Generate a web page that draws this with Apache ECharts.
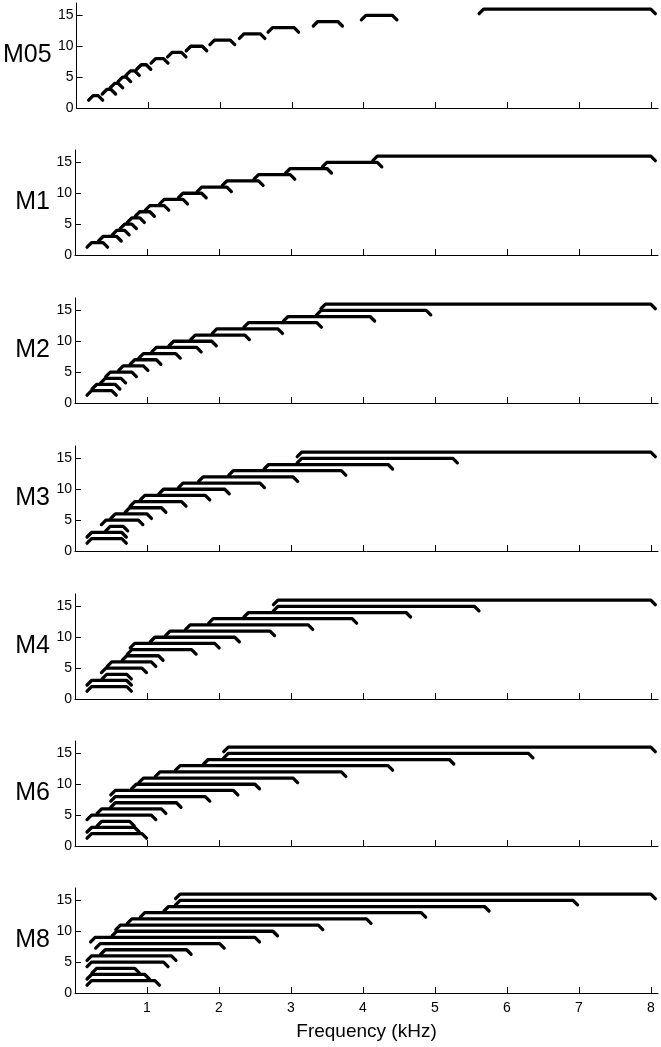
<!DOCTYPE html>
<html>
	<head>
		<meta charset="UTF-8">
		<title>Channel bands</title>
		<style>
			html, body { margin: 0; padding: 0; background: #fff; }
			#main { width: 661px; height: 1047px; }
		</style>
	</head>
	<body>
		<div id="main"></div>
		<script src="https://cdn.jsdelivr.net/npm/echarts@6.0.0/dist/echarts.min.js"></script>
		<script type="text/javascript">
			// channel levels (y) shared by every panel
			var levels = [2, 3, 4, 5, 6, 7, 8, 9, 10, 11, 12, 13, 14, 15, 16];
			var panelNames = ['M05', 'M1', 'M2', 'M3', 'M4', 'M6', 'M8'];
			var xTicks = [1, 2, 3, 4, 5, 6, 7, 8];
			var yTicks = [0, 5, 10, 15];

			// lower / upper edge (kHz) of the flat part of each band
			var m05Lo = [0.23, 0.42, 0.53, 0.64, 0.75, 0.90, 1.10, 1.33, 1.59, 1.92, 2.33, 2.73, 3.36, 4.03, 5.67];
			var m05Hi = [0.30, 0.48, 0.58, 0.69, 0.81, 0.97, 1.21, 1.46, 1.75, 2.14, 2.56, 3.03, 3.64, 4.40, 8.00];
			var m1Lo = [0.23, 0.39, 0.58, 0.69, 0.79, 0.90, 1.04, 1.24, 1.50, 1.76, 2.11, 2.55, 2.99, 3.50, 4.20];
			var m1Hi = [0.39, 0.58, 0.69, 0.79, 0.90, 1.04, 1.24, 1.50, 1.76, 2.11, 2.55, 2.99, 3.50, 4.20, 8.00];
			var m2Lo = [0.23, 0.30, 0.42, 0.49, 0.67, 0.83, 0.95, 1.13, 1.37, 1.67, 1.97, 2.41, 2.96, 3.42, 3.48];
			var m2Hi = [0.51, 0.56, 0.64, 0.79, 0.95, 1.13, 1.40, 1.69, 1.90, 2.36, 2.82, 3.36, 4.10, 4.88, 8.00];
			var m3Lo = [0.23, 0.23, 0.49, 0.43, 0.56, 0.76, 0.83, 0.97, 1.23, 1.50, 1.78, 2.20, 2.69, 3.15, 3.15];
			var m3Hi = [0.65, 0.65, 0.67, 0.88, 1.00, 1.20, 1.48, 1.81, 2.08, 2.57, 3.03, 3.70, 4.35, 5.25, 8.00];
			var m4Lo = [0.23, 0.23, 0.44, 0.43, 0.51, 0.72, 0.79, 0.83, 1.11, 1.32, 1.60, 1.92, 2.41, 2.82, 2.82];
			var m4Hi = [0.72, 0.72, 0.72, 0.93, 1.06, 1.16, 1.62, 1.94, 2.22, 2.71, 3.24, 3.85, 4.60, 5.55, 8.00];
			var m6Lo = [0.23, 0.23, 0.37, 0.23, 0.37, 0.56, 0.56, 0.56, 0.85, 0.95, 1.18, 1.46, 1.85, 2.13, 2.13];
			var m6Hi = [0.93, 0.83, 0.76, 1.06, 1.20, 1.41, 1.81, 2.20, 2.50, 3.03, 3.70, 4.35, 5.20, 6.30, 8.00];
			var m8Lo = [0.23, 0.23, 0.30, 0.23, 0.23, 0.42, 0.35, 0.28, 0.58, 0.63, 0.79, 0.97, 1.30, 1.46, 1.46];
			var m8Hi = [1.11, 0.97, 0.83, 1.23, 1.34, 1.55, 2.01, 2.50, 2.75, 3.38, 4.05, 4.81, 5.69, 6.92, 8.00];

			var panelLo = [m05Lo, m1Lo, m2Lo, m3Lo, m4Lo, m6Lo, m8Lo];
			var panelHi = [m05Hi, m1Hi, m2Hi, m3Hi, m4Hi, m6Hi, m8Hi];

			var HOOK = 4.5;
			var FONT = '"Liberation Sans", Arial, sans-serif';

			function renderBand(params, api) {
				var lvl = api.value(0);
				var a = api.coord([api.value(1), lvl]);
				var b = api.coord([api.value(2), lvl]);
				return {
					type: 'polyline',
					shape: {
						points: [[a[0] - HOOK, a[1] + HOOK], a, b, [b[0] + HOOK, b[1] + HOOK]]
					},
					style: {
						stroke: '#000',
						fill: null,
						lineWidth: 3.3,
						lineCap: 'round',
						lineJoin: 'round'
					}
				};
			}

			var myChart = echarts.init(document.getElementById('main'));
			var grids = [], xAxes = [], yAxes = [], series = [];
			var tops = [3, 150, 298, 446, 594, 741, 888];

			for (var i = 0; i < panelNames.length; i++) {
				var last = (i === panelNames.length - 1);
				grids.push({ left: 75, top: tops[i], width: 583, height: 105 });
				xAxes.push({
					type: 'value',
					gridIndex: i,
					min: 0,
					max: 8.1,
					name: last ? 'Frequency (kHz)' : '',
					nameLocation: 'middle',
					nameGap: 29,
					nameTextStyle: { fontFamily: FONT, fontSize: 19, color: '#000' },
					axisLine: { lineStyle: { color: '#000', width: 1 } },
					axisTick: { inside: true, length: 6, customValues: xTicks, lineStyle: { color: '#000' } },
					axisLabel: { show: last, customValues: xTicks, margin: 8, fontFamily: FONT, fontSize: 14, color: '#000' },
					splitLine: { show: false }
				});
				yAxes.push({
					type: 'value',
					gridIndex: i,
					min: 0,
					max: 17,
					name: panelNames[i],
					nameLocation: 'middle',
					nameRotate: 0,
					nameGap: 25,
					nameTextStyle: { fontFamily: FONT, fontSize: 25, color: '#000', padding: [8, 0, 0, 0] },
					axisLine: { show: true, lineStyle: { color: '#000', width: 1 } },
					axisTick: { show: true, inside: true, length: 6, customValues: yTicks, lineStyle: { color: '#000' } },
					axisLabel: { customValues: yTicks, margin: 3, fontFamily: FONT, fontSize: 14, color: '#000' },
					splitLine: { show: false }
				});
				var rows = [];
				for (var k = 0; k < levels.length; k++) {
					rows.push([levels[k], panelLo[i][k], panelHi[i][k]]);
				}
				series.push({
					type: 'custom',
					xAxisIndex: i,
					yAxisIndex: i,
					renderItem: renderBand,
					encode: { x: [1, 2], y: 0 },
					data: rows,
					silent: true
				});
			}

			var option = {
				animation: false,
				backgroundColor: '#fff',
				grid: grids,
				xAxis: xAxes,
				yAxis: yAxes,
				series: series
			};
			myChart.setOption(option);
		</script>
	</body>
</html>
